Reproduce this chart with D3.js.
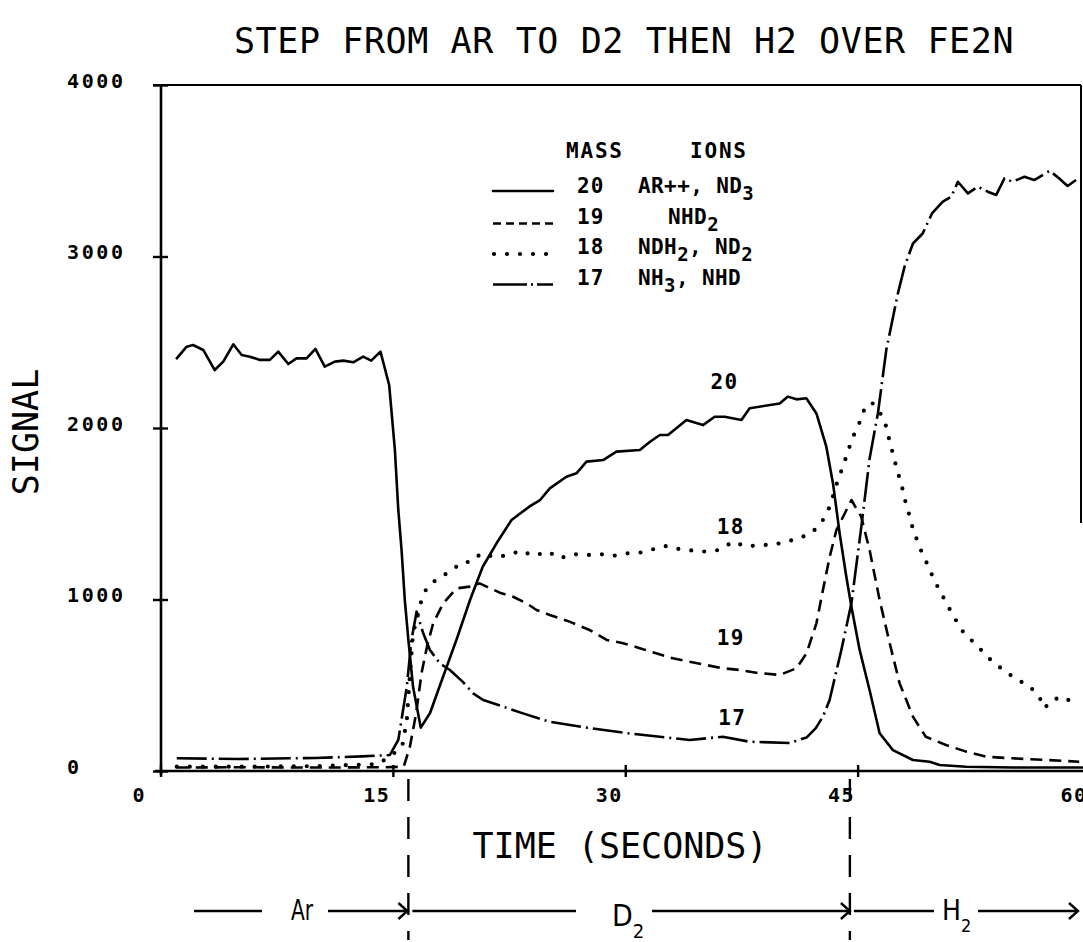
<!DOCTYPE html>
<html><head><meta charset="utf-8">
<script src="https://cdn.jsdelivr.net/npm/d3@7"></script>
<style>body{margin:0;background:#fff}</style></head>
<body>
<svg id="c" width="1083" height="942" xmlns="http://www.w3.org/2000/svg"></svg>
<script>
// ---------- data ----------
const titleText = "STEP FROM AR TO D2 THEN H2 OVER FE2N";
const xTicks = [0, 15, 30, 45, 60];
const yTicks = [0, 1000, 2000, 3000, 4000];
const switchTimes = [16, 44.5];

// mass 20 (solid): [time s, signal]
const mass20 = [[1.05,2406],[1.69,2474],[2.1,2484],[2.76,2455],[3.5,2338],[4.05,2387],[4.7,2488],[5.24,2426],[5.77,2416],[6.42,2397],[7.06,2397],[7.6,2445],[8.25,2373],[8.78,2406],[9.43,2406],[10.0,2461],[10.6,2358],[11.26,2387],[11.8,2393],[12.44,2383],[13.08,2416],[13.6,2393],[14.2,2445],[14.76,2251],[15.13,1872],[15.35,1522],[15.56,1289],[15.77,997],[16.0,764],[16.3,492],[16.8,253],[17.4,338],[18.0,490],[19.1,764],[19.98,997],[20.8,1191],[21.7,1329],[22.66,1464],[23.8,1541],[24.5,1580],[25.13,1648],[26.2,1716],[26.85,1736],[27.5,1804],[28.57,1813],[29.43,1862],[30.94,1872],[31.6,1920],[32.23,1959],[32.76,1959],[33.95,2047],[35.02,2017],[35.77,2066],[36.42,2066],[37.5,2047],[38.03,2115],[39.97,2143],[40.5,2183],[41.05,2167],[41.69,2173],[42.34,2085],[42.98,1891],[43.41,1677],[43.84,1386],[44.27,1133],[44.6,958],[45.13,706],[45.77,472],[46.42,220],[47.28,122],[48.57,64],[49.65,54],[50.29,35],[52,25],[55,20],[58,20],[59.5,20]];
// mass 19 (dashed)
const mass19 = [[1.05,20],[5,22],[10,20],[14.5,22],[15.7,25],[16.1,142],[16.5,336],[16.85,570],[17.2,725],[17.6,861],[18.25,978],[19.1,1065],[19.96,1075],[20.6,1094],[21.05,1075],[21.9,1040],[22.76,1016],[23.63,978],[24.27,939],[25.13,910],[26.4,871],[27.7,822],[28.8,764],[29.86,745],[30.94,716],[32.0,686],[33.07,657],[34.16,637],[35.23,618],[36.3,599],[37.4,589],[38.45,573],[39.97,560],[41.05,599],[41.7,686],[42.34,861],[42.76,1055],[43.2,1250],[43.63,1405],[44.6,1580],[45.23,1483],[45.77,1289],[46.42,997],[47.07,745],[47.71,511],[48.57,317],[49.4,200],[50.7,152],[52.0,113],[53.3,83],[55.0,74],[57.2,64],[59.3,54]];
// mass 18 (dotted)
const mass18 = [[1.05,25],[5,25],[10,28],[14.0,40],[14.8,83],[15.6,142],[15.9,297],[16.1,560],[16.3,800],[16.85,997],[17.2,1071],[17.92,1124],[18.68,1162],[19.43,1215],[20.07,1221],[20.71,1269],[21.6,1246],[22.44,1259],[23.3,1285],[24.05,1254],[25.02,1279],[25.77,1240],[26.63,1265],[27.5,1259],[28.35,1265],[29.2,1254],[30.07,1269],[30.94,1273],[31.8,1293],[32.66,1312],[33.52,1293],[34.38,1285],[35.23,1279],[36.1,1289],[36.95,1337],[37.8,1308],[38.67,1318],[39.53,1318],[40.4,1337],[41.26,1357],[42.12,1395],[42.76,1464],[43.2,1541],[43.73,1697],[44.05,1774],[44.37,1862],[44.66,1940],[45.06,2017],[45.4,2101],[45.9,2150],[46.42,2095],[46.85,2008],[47.07,1920],[47.32,1837],[47.54,1755],[47.82,1677],[48.03,1589],[48.29,1508],[48.53,1425],[48.83,1347],[49.17,1269],[49.58,1191],[49.93,1114],[50.4,1036],[50.83,962],[51.3,886],[51.8,812],[52.44,754],[53.08,696],[53.73,634],[54.49,585],[55.24,535],[56.05,498],[56.7,437],[57.06,366],[57.6,418],[58.4,430],[59.1,375]];
// mass 17 (dash-dot)
const mass17 = [[1.05,74],[5,70],[10,76],[13,85],[14.8,93],[15.35,181],[15.9,492],[16.2,764],[16.53,929],[16.96,803],[17.39,706],[18.03,628],[18.68,589],[19.5,521],[20.18,453],[20.83,414],[22.12,375],[23.4,336],[25.13,287],[27.7,250],[30.08,221],[32.23,200],[34.16,181],[36.3,200],[38.0,171],[40.6,163],[41.7,195],[42.3,250],[42.76,317],[43.19,414],[43.95,706],[44.6,979],[45.24,1425],[45.77,1820],[46.31,2086],[46.85,2455],[47.6,2785],[48.03,2941],[48.57,3076],[49.2,3134],[49.8,3251],[50.5,3320],[51.05,3349],[51.47,3436],[52.12,3368],[52.76,3407],[53.4,3378],[53.95,3359],[54.48,3456],[55.0,3436],[55.77,3465],[56.4,3446],[57.4,3500],[58.0,3456],[58.55,3411],[59.1,3446]];

const legendMasses = ["20", "19", "18", "17"];
const legendIons = [
  [["AR++, ND",0],["3",1]],
  [["NHD",0],["2",1]],
  [["NDH",0],["2",1],[", ND",0],["2",1]],
  [["NH",0],["3",1],[", NHD",0]]
];
const curveLabels = [["20",35.5,2230],["18",35.9,1380],["19",35.9,735],["17",36.0,270]];
const gasLabels = ["Ar", "D", "H"];

// ---------- drawing ----------
const svg = d3.select("#c");
svg.append("rect").attr("width",1083).attr("height",942).attr("fill","#fff");
const x = d3.scaleLinear().domain([0,60]).range([160.5,1090]);
const y = d3.scaleLinear().domain([0,4000]).range([771,85]);

const mono = "'DejaVu Sans Mono', monospace";
const ink = "#000";

// title
svg.append("text").attr("x",624).attr("y",53).attr("text-anchor","middle")
  .attr("font-family",mono).attr("font-size",35).attr("letter-spacing",0.6).attr("fill",ink)
  .text(titleText);

// frame lines
svg.append("line").attr("x1",153).attr("x2",1081).attr("y1",y(4000)).attr("y2",y(4000)).attr("stroke",ink).attr("stroke-width",2.2);
svg.append("line").attr("x1",1081).attr("x2",1081).attr("y1",y(4000)).attr("y2",523).attr("stroke",ink).attr("stroke-width",2);

// y axis
const yAxis = svg.append("g").attr("transform","translate(161,0)")
  .call(d3.axisLeft(y).tickValues(yTicks).tickSizeOuter(0).tickSizeInner(8).tickFormat(d3.format("d")));
yAxis.select(".domain").attr("stroke",ink).attr("stroke-width",2.6).attr("d","M0,"+(y(4000))+"V"+(y(0)+4));
yAxis.selectAll(".tick line").attr("x1",-8).attr("x2",7).attr("stroke",ink).attr("stroke-width",2.4);
yAxis.selectAll(".tick text").attr("x",-94).attr("dy","0").attr("y",2).attr("text-anchor","start")
  .attr("font-family",mono).attr("font-weight","bold").attr("font-size",20).attr("letter-spacing",2.6).attr("fill",ink);

// x axis
const xAxis = svg.append("g").attr("transform","translate(0,"+y(0)+")")
  .call(d3.axisBottom(x).tickValues(xTicks).tickSizeOuter(0).tickSizeInner(6).tickFormat(d3.format("d")));
xAxis.select(".domain").attr("stroke",ink).attr("stroke-width",2.6).attr("d","M155,0H1083");
xAxis.selectAll(".tick line").attr("y1",-6).attr("y2",6).attr("stroke",ink).attr("stroke-width",2.4);
xAxis.selectAll(".tick text").attr("y",31).attr("dy","0").attr("x",d=>d===0?-15:-3).attr("text-anchor","end")
  .attr("font-family",mono).attr("font-weight","bold").attr("font-size",20).attr("letter-spacing",1.5).attr("fill",ink);

// axis titles
svg.append("text").attr("transform","translate(38,432) rotate(-90)").attr("text-anchor","middle")
  .attr("font-family",mono).attr("font-size",35).attr("fill",ink).text("SIGNAL");
svg.append("text").attr("x",620).attr("y",858).attr("text-anchor","middle")
  .attr("font-family",mono).attr("font-size",35).attr("fill",ink).text("TIME (SECONDS)");

// series
const line = d3.line().x(d=>x(d[0])).y(d=>y(d[1])).curve(d3.curveLinear);
const styles = {
  "20": {dash:null, w:2.6, cap:"round"},
  "19": {dash:"12 7", w:2.6, cap:"butt"},
  "18": {dash:"0 13", w:4.2, cap:"round"},
  "17": {dash:"30 5 2 5", w:2.6, cap:"butt"}
};
const seriesList = [["20",mass20],["19",mass19],["18",mass18],["17",mass17]];
seriesList.forEach(([k,data])=>{
  const s = styles[k];
  const p = svg.append("path").datum(data).attr("d",line).attr("fill","none")
    .attr("stroke",ink).attr("stroke-width",s.w).attr("stroke-linejoin","round").attr("stroke-linecap",s.cap);
  if (s.dash) p.attr("stroke-dasharray",s.dash);
});

// curve labels
curveLabels.forEach(([t,tx,vy])=>{
  svg.append("text").attr("x",x(tx)).attr("y",y(vy)).attr("font-family",mono).attr("font-weight","bold")
    .attr("font-size",21).attr("letter-spacing",1.5).attr("fill",ink).text(t);
});

// legend
const lg = svg.append("g");
lg.append("text").attr("x",566).attr("y",158).attr("font-family",mono).attr("font-weight","bold")
  .attr("font-size",21).attr("letter-spacing",1.8).attr("fill",ink).text("MASS");
lg.append("text").attr("x",690).attr("y",158).attr("font-family",mono).attr("font-weight","bold")
  .attr("font-size",21).attr("letter-spacing",1.8).attr("fill",ink).text("IONS");
const ionX = [638, 668, 638, 638];
legendMasses.forEach((m,i)=>{
  const yy = 193 + i*30.5;
  const s = styles[m];
  const ln = lg.append("line").attr("x1",493).attr("x2",553).attr("y1",yy-2+ (i===0?0:2)).attr("y2",yy-2+(i===0?0:2))
    .attr("stroke",ink).attr("stroke-width",s.w).attr("stroke-linecap",s.cap);
  if (m==="19") ln.attr("stroke-dasharray","8 5");
  else if (m==="18") ln.attr("stroke-dasharray","0 13").attr("x1",494);
  else if (m==="17") ln.attr("stroke-dasharray","34 4 2 4");
  lg.append("text").attr("x",577).attr("y",yy).attr("font-family",mono).attr("font-weight","bold")
    .attr("font-size",21).attr("letter-spacing",1.2).attr("fill",ink).text(m);
  const tx = lg.append("text").attr("x",ionX[i]).attr("y",yy).attr("font-family",mono).attr("font-weight","bold")
    .attr("font-size",21).attr("letter-spacing",0.4).attr("fill",ink);
  let shifted = false;
  legendIons[i].forEach(([str,sub])=>{
    const ts = tx.append("tspan").text(str);
    if (sub) ts.attr("font-size",19);
    if (sub && !shifted) { ts.attr("dy",7); shifted = true; }
    else if (!sub && shifted) { ts.attr("dy",-7); shifted = false; }
  });
});

// gas switch markers (dashed verticals)
switchTimes.forEach(t=>{
  svg.append("line").attr("x1",x(t)).attr("x2",x(t)).attr("y1",779).attr("y2",940)
    .attr("stroke",ink).attr("stroke-width",2.4).attr("stroke-dasharray","22 16");
});

// gas arrows row
const ay = 911;
function seg(x1,x2,arrow){
  svg.append("line").attr("x1",x1).attr("x2",x2).attr("y1",ay).attr("y2",ay).attr("stroke",ink).attr("stroke-width",2.4);
  if (arrow) svg.append("path").attr("d",`M${x2-9},${ay-8}L${x2},${ay}L${x2-9},${ay+8}`)
    .attr("fill","none").attr("stroke",ink).attr("stroke-width",2.4);
}
const sx1 = x(switchTimes[0]), sx2 = x(switchTimes[1]);
seg(194,262,false); seg(328,sx1-1,true);
seg(sx1+4,576,false); seg(652,sx2,true);
seg(sx2+4,934,false); seg(978,1078,true);
const hand = "'DejaVu Sans Condensed','DejaVu Sans',sans-serif";
svg.append("text").attr("x",302).attr("y",920).attr("text-anchor","middle").attr("font-family",hand)
  .attr("font-size",28).attr("fill",ink).attr("transform","translate(302,0) scale(0.8,1) translate(-302,0)").text(gasLabels[0]);
const d2 = svg.append("text").attr("x",612).attr("y",926).attr("font-family",hand).attr("font-size",30).attr("fill",ink);
d2.append("tspan").text(gasLabels[1]);
d2.append("tspan").attr("dy",12).attr("font-size",20).text("2");
const h2 = svg.append("text").attr("x",942).attr("y",920).attr("font-family",hand).attr("font-size",28).attr("fill",ink);
h2.append("tspan").text(gasLabels[2]);
h2.append("tspan").attr("dy",12).attr("font-size",18).text("2");
</script>
</body></html>
